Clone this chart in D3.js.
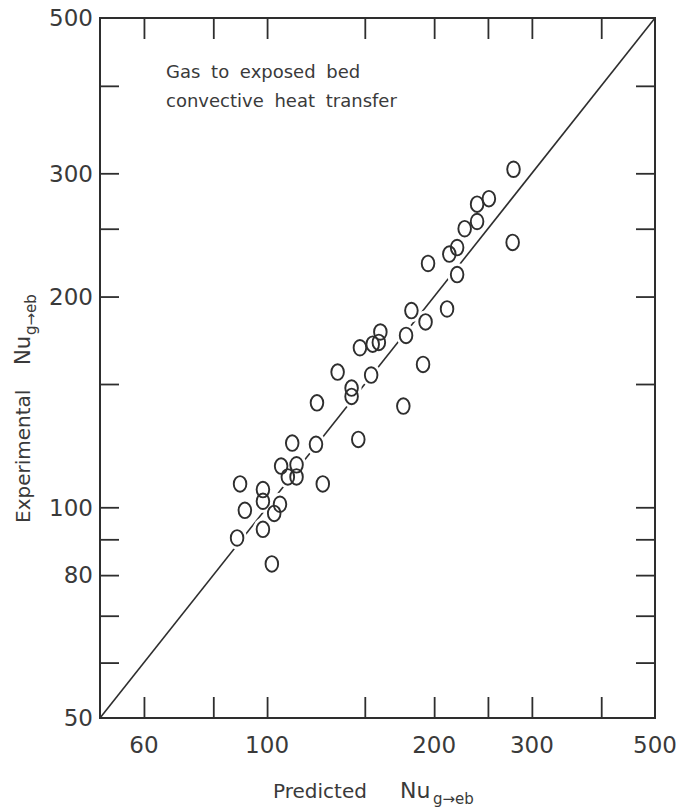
<!DOCTYPE html>
<html>
<head>
<meta charset="utf-8">
<script src="https://cdn.jsdelivr.net/npm/d3@7/dist/d3.min.js"></script>
<style>
  html, body { margin: 0; padding: 0; background: #fff; }
  svg { display: block; }
  .lbl { font-family: "DejaVu Sans", sans-serif; fill: #3a3a3a; }
</style>
</head>
<body>
<svg id="chart" width="677" height="808"></svg>
<script>
// Predicted vs experimental Nusselt number (gas to exposed bed)
const predicted = [278, 251, 239, 239, 227, 220, 213, 220, 195, 277,
                   211, 193, 182, 178, 160, 155, 159, 147, 134, 154,
                   191, 142, 142, 123, 176, 122.5, 146, 111, 126, 106,
                   113, 109, 113, 89.4, 98.3, 98.3, 105.5, 91.2, 103, 98.3,
                   88.3, 102];
const experimental = [304, 276, 271, 256, 250, 235, 230, 215, 223, 239,
                      192, 184, 191, 176, 178, 171, 172, 169, 156, 154.5,
                      160, 148, 144, 141, 139.5, 123, 125, 123.5, 108, 114.5,
                      115, 110.5, 110.5, 108, 106, 102, 101, 99, 98, 93,
                      90.4, 83];

const xTicks = [60, 80, 100, 150, 200, 250, 300, 400];
const xLabels = [60, 100, 200, 300, 500];
const yTicks = [60, 70, 80, 90, 100, 150, 200, 250, 300, 400];
const yLabels = [50, 80, 100, 200, 300, 500];
const domain = [50, 500];

const svg = d3.select("#chart");
const plotL = 100, plotR = 655, plotT = 18, plotB = 718;

const x = d3.scaleLog().domain(domain).range([plotL, plotR]);
const y = d3.scaleLog().domain(domain).range([plotB, plotT]);

const ink = "#2e2e2e";
const fontSize = 23;

// tick marks on all four sides, pointing into the plot
function styleAxis(g) {
  g.select(".domain").remove();
  g.selectAll(".tick line").attr("stroke", ink).attr("stroke-width", 1.8);
}

svg.append("g").attr("transform", `translate(0,${plotB})`)
  .call(d3.axisBottom(x).tickValues(xTicks).tickSizeInner(-21).tickSizeOuter(0).tickFormat(""))
  .call(styleAxis);
svg.append("g").attr("transform", `translate(0,${plotT})`)
  .call(d3.axisTop(x).tickValues(xTicks).tickSizeInner(-21).tickSizeOuter(0).tickFormat(""))
  .call(styleAxis);
svg.append("g").attr("transform", `translate(${plotL},0)`)
  .call(d3.axisLeft(y).tickValues(yTicks).tickSizeInner(-19).tickSizeOuter(0).tickFormat(""))
  .call(styleAxis);
svg.append("g").attr("transform", `translate(${plotR},0)`)
  .call(d3.axisRight(y).tickValues(yTicks).tickSizeInner(-19).tickSizeOuter(0).tickFormat(""))
  .call(styleAxis);

// frame
svg.append("rect")
  .attr("x", plotL).attr("y", plotT)
  .attr("width", plotR - plotL).attr("height", plotB - plotT)
  .attr("fill", "none").attr("stroke", ink).attr("stroke-width", 2);

// tick labels
svg.append("g").selectAll("text").data(xLabels).join("text")
  .attr("class", "lbl")
  .attr("x", d => x(d)).attr("y", plotB + 35)
  .attr("text-anchor", "middle")
  .attr("font-size", fontSize)
  .text(d => d);

svg.append("g").selectAll("text").data(yLabels).join("text")
  .attr("class", "lbl")
  .attr("x", plotL - 7).attr("y", d => y(d))
  .attr("dy", "0.36em")
  .attr("text-anchor", "end")
  .attr("font-size", fontSize)
  .text(d => d);

// line of perfect agreement
svg.append("line")
  .attr("x1", x(domain[0])).attr("y1", y(domain[0]))
  .attr("x2", x(domain[1])).attr("y2", y(domain[1]))
  .attr("stroke", ink).attr("stroke-width", 1.6);

const pts = predicted.map((p, i) => ({ p, e: experimental[i] }));

// white halos break the line around each point
svg.append("g").selectAll("ellipse").data(pts).join("ellipse")
  .attr("cx", d => x(d.p)).attr("cy", d => y(d.e))
  .attr("rx", 10).attr("ry", 11.5)
  .attr("fill", "#fff");

svg.append("g").selectAll("ellipse").data(pts).join("ellipse")
  .attr("cx", d => x(d.p)).attr("cy", d => y(d.e))
  .attr("rx", 6.3).attr("ry", 7.8)
  .attr("fill", "none")
  .attr("stroke", ink).attr("stroke-width", 1.9);

// annotation
const note = svg.append("text").attr("class", "lbl")
  .attr("font-size", 18).attr("word-spacing", 5);
note.append("tspan").attr("x", 166).attr("y", 78).text("Gas to exposed bed");
note.append("tspan").attr("x", 166).attr("y", 107).text("convective heat transfer");

// axis titles
const xt = svg.append("text").attr("class", "lbl")
  .attr("x", 273).attr("y", 798).attr("font-size", 20);
xt.append("tspan").text("Predicted");
xt.append("tspan").attr("x", 400).attr("font-size", 22).text("Nu");
xt.append("tspan").attr("x", 433).attr("font-size", 15).attr("dy", 6).text("g\u2192eb");

const yt = svg.append("text").attr("class", "lbl")
  .attr("transform", "translate(30,523) rotate(-90)")
  .attr("font-size", 20);
yt.append("tspan").text("Experimental");
yt.append("tspan").attr("x", 158).attr("font-size", 21).text("Nu");
yt.append("tspan").attr("x", 188).attr("font-size", 15).attr("dy", 6).text("g\u2192eb");
</script>
</body>
</html>
